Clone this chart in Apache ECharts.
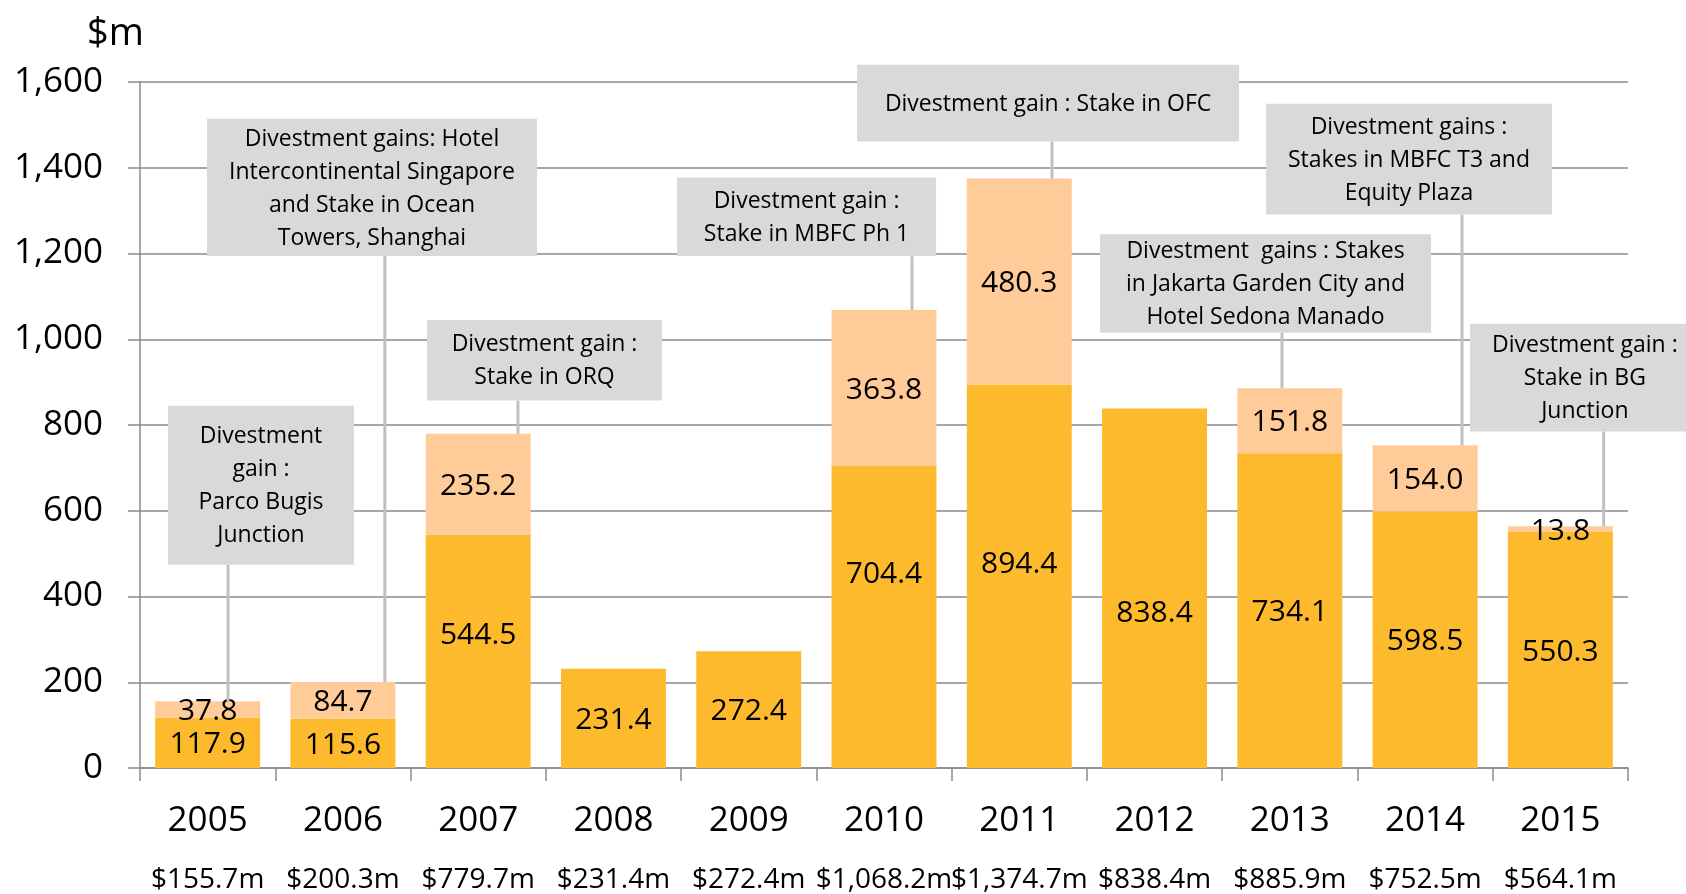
<!DOCTYPE html>
<html>
<head>
<meta charset="utf-8">
<script src="https://cdn.jsdelivr.net/npm/echarts@6/dist/echarts.min.js"></script>
<style>
  html, body { margin: 0; padding: 0; background: #fff; }
  #chart { width: 1686px; height: 894px; }
</style>
</head>
<body>
<div id="chart"></div>
<script>
const years = ['2005', '2006', '2007', '2008', '2009', '2010', '2011', '2012', '2013', '2014', '2015']
const baseValues = [117.9, 115.6, 544.5, 231.4, 272.4, 704.4, 894.4, 838.4, 734.1, 598.5, 550.3]
const gainValues = [37.8, 84.7, 235.2, null, null, 363.8, 480.3, null, 151.8, 154.0, 13.8]
const notes = [
  { year: '2005', text: 'Divestment\ngain :\nParco Bugis\nJunction' },
  { year: '2006', text: 'Divestment gains: Hotel\nIntercontinental Singapore\nand Stake in Ocean\nTowers, Shanghai' },
  { year: '2007', text: 'Divestment gain :\nStake in ORQ' },
  { year: '2010', text: 'Divestment gain :\nStake in MBFC Ph 1' },
  { year: '2011', text: 'Divestment gain : Stake in OFC' },
  { year: '2013', text: 'Divestment  gains : Stakes\nin Jakarta Garden City and\nHotel Sedona Manado' },
  { year: '2014', text: 'Divestment gains :\nStakes in MBFC T3 and\nEquity Plaza' },
  { year: '2015', text: 'Divestment gain :\nStake in BG\nJunction' }
]

// callout placement: box edges in category units / axis values, leader x in category units
const noteLayout = {
  '2005': { x: [-0.293, 1.082], y: [845, 474], leader: 0.151 },
  '2006': { x: [-0.005, 2.435], y: [1514, 1194], leader: 1.31 },
  '2007': { x: [1.622, 3.359], y: [1045, 857], leader: 2.294 },
  '2010': { x: [3.470, 5.385], y: [1377, 1194], leader: 5.207 },
  '2011': { x: [4.801, 7.625], y: [1640, 1461], leader: 6.242 },
  '2013': { x: [6.597, 9.044], y: [1245, 1015], leader: 7.942 },
  '2014': { x: [7.824, 9.938], y: [1549, 1291], leader: 9.273 },
  '2015': { x: [9.332, 11.03], y: [1036, 785], leader: 10.32 }
}
// hand-moved value labels in the original
const labelNudge = { '2007': -18, '2010': -45, '2011': -14, '2012': 23 }
const LABEL_DY = 2

const FONT = "'Open Sans', sans-serif"
const totals = baseValues.map((v, i) => v + (gainValues[i] || 0))
const fmtTotal = v => '$' + v.toLocaleString('en-US', { minimumFractionDigits: 1, maximumFractionDigits: 1 }) + 'm'

const chart = echarts.init(document.getElementById('chart'))

const valueLabel = {
  show: true,
  position: 'inside',
  offset: [0, LABEL_DY],
  color: '#000',
  fontFamily: FONT,
  fontSize: 30,
  formatter: p => (p.value == null ? '' : Number(p.value).toFixed(1))
}

const option = {
  animation: false,
  grid: { left: 140, right: 58, top: 82, bottom: 120 },
  xAxis: {
    type: 'category',
    data: years,
    axisLine: { lineStyle: { color: '#8a8a8a', width: 1.5 } },
    axisTick: { show: true, length: 13, lineStyle: { color: '#8a8a8a', width: 1.5 } },
    axisLabel: {
      interval: 0,
      margin: 33,
      formatter: (val, i) => '{y|' + val + '}\n{t|' + fmtTotal(totals[i]) + '}',
      rich: {
        y: { fontFamily: FONT, fontSize: 35, color: '#000', lineHeight: 40 },
        t: { fontFamily: FONT, fontSize: 28, color: '#000', lineHeight: 78 }
      }
    }
  },
  yAxis: {
    type: 'value',
    min: 0,
    max: 1600,
    interval: 200,
    name: '$m',
    nameLocation: 'end',
    nameGap: 28,
    nameTextStyle: { fontFamily: FONT, fontSize: 38, color: '#000', align: 'right', lineHeight: 40, padding: [0, -4, 0, 0] },
    axisLine: { show: true, lineStyle: { color: '#8a8a8a', width: 1.5 } },
    axisTick: { show: true, length: 12, lineStyle: { color: '#8a8a8a', width: 1.5 } },
    axisLabel: {
      margin: 37,
      fontFamily: FONT,
      fontSize: 35,
      color: '#000',
      formatter: v => v.toLocaleString('en-US')
    },
    splitLine: { lineStyle: { color: '#8a8a8a', width: 1.5 } }
  },
  series: [
    {
      name: 'Base',
      type: 'bar',
      stack: 'total',
      barCategoryGap: '22.4%',
      itemStyle: { color: '#FDBA2D' },
      label: valueLabel,
      data: baseValues.map((v, i) => labelNudge[years[i]]
        ? { value: v, label: { offset: [0, LABEL_DY + labelNudge[years[i]]] } }
        : v)
    },
    {
      name: 'Divestment gain',
      type: 'bar',
      stack: 'total',
      itemStyle: { color: '#FFCC99' },
      label: valueLabel,
      data: gainValues
    }
  ]
}

chart.setOption(option)

function drawNotes() {
  const p0 = chart.convertToPixel({ gridIndex: 0 }, [0, 0])
  const p1 = chart.convertToPixel({ gridIndex: 0 }, [1, 0])
  const step = p1[0] - p0[0]
  const px = c => p0[0] + c * step
  const py = v => chart.convertToPixel({ yAxisIndex: 0 }, v)
  const elements = []
  notes.forEach(n => {
    const lay = noteLayout[n.year]
    const idx = years.indexOf(n.year)
    const x0 = px(lay.x[0]), x1 = px(lay.x[1])
    const yTop = py(lay.y[0]), yBot = py(lay.y[1])
    const lx = px(lay.leader)
    elements.push({
      type: 'line',
      z: 100,
      shape: { x1: lx, y1: yBot, x2: lx, y2: py(totals[idx]) },
      style: { stroke: '#c0c0c0', lineWidth: 3 }
    })
    elements.push({
      type: 'rect',
      z: 101,
      shape: { x: x0, y: yTop, width: x1 - x0, height: yBot - yTop },
      style: { fill: '#D9D9D9' }
    })
    elements.push({
      type: 'text',
      z: 102,
      style: {
        text: n.text,
        x: (x0 + x1) / 2,
        y: (yTop + yBot) / 2 + 1,
        align: 'center',
        verticalAlign: 'middle',
        fontFamily: FONT,
        fontSize: 23,
        lineHeight: 33,
        fill: '#000'
      }
    })
  })
  chart.setOption({ graphic: { elements } })
}

drawNotes()
</script>
</body>
</html>
